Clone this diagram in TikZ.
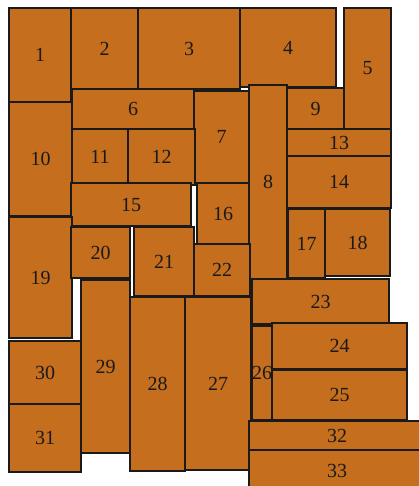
\documentclass[tikz,border=0pt]{standalone}
\usepackage{fontspec}
\setmainfont{Liberation Serif}
\usepackage{xcolor}
\usepackage{tikz}
\usetikzlibrary{calc}
\definecolor{tilefill}{HTML}{C46E1E}
\definecolor{tileedge}{HTML}{1A1A1A}

\tikzset{
  tile/.style={fill=tilefill, draw=tileedge, line width=2.5pt},
  tilelabel/.style={inner sep=0pt, text=tileedge, font=\fontsize{20}{24}\selectfont}
}

\begin{document}
\begin{tikzpicture}[x=1pt, y=-1pt]
    \useasboundingbox (0,0) rectangle (419,486);
    \clip (0,0) rectangle (419,486);
    % tiles: label / left / top / right / bottom (pixels, y down)
    \foreach \n/\xa/\ya/\xb/\yb in {
        1/9/8/71/102, 2/71/8/138/89, 3/138/8/240/89, 4/240/8/336/87,
        5/344/8/391/129, 6/72/89/194/129, 7/194/91/249/183, 8/249/85/287/279,
        9/287/88/344/129, 10/9/102/72/216, 11/72/129/128/184, 12/128/129/195/185,
        13/287/129/391/156, 14/287/156/391/208, 15/71/183/191/226, 16/197/183/249/244,
        17/288/209/325/278, 18/325/209/390/276, 19/9/217/72/338, 20/71/227/130/278,
        21/134/227/194/296, 22/194/244/250/296, 23/252/279/389/324, 24/272/323/407/369,
        25/272/370/407/420, 26/252/326/272/420, 27/185/297/251/470, 28/130/297/185/471,
        29/81/280/130/453, 30/9/341/81/404, 31/9/404/81/472, 32/249/421/425/450,
        33/249/450/425/492}{
      \draw[tile] (\xa,\ya) rectangle (\xb,\yb);
      \node[tilelabel] (r\n) at ($(\xa,\ya)!0.5!(\xb,\yb)$) {\n};
    }
\end{tikzpicture}
\end{document}
